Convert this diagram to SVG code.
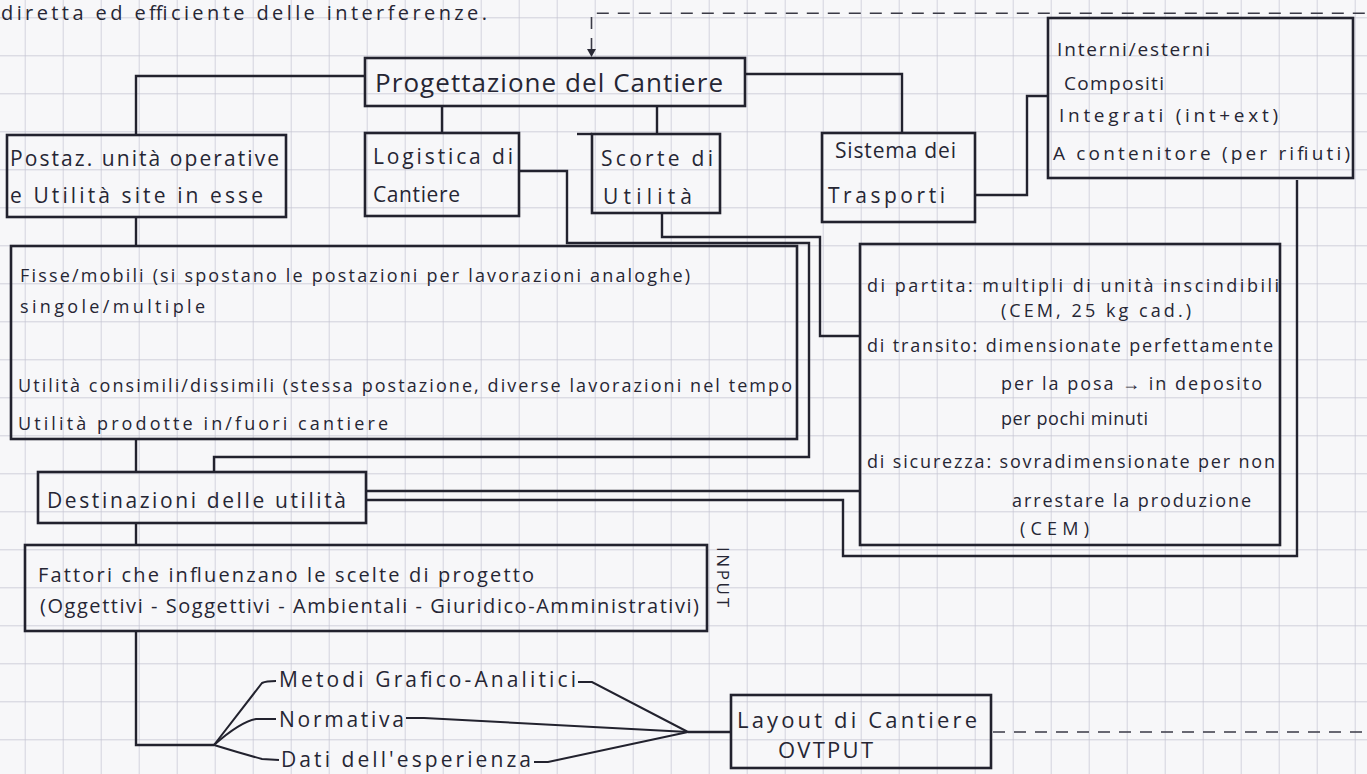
<svg xmlns="http://www.w3.org/2000/svg" width="1367" height="774" viewBox="0 0 1367 774">
<defs>
<pattern id="grid" x="24.7" y="17.3" width="38" height="38" patternUnits="userSpaceOnUse">
<path d="M0 0 H38 M0 0 V38" fill="none" stroke="#c4c4d2" stroke-width="1.4"/>
</pattern>
</defs>
<style>
.box{fill:none;stroke:#22222e;stroke-width:2.6}
.conn{fill:none;stroke:#22222e;stroke-width:2.4;stroke-linejoin:miter}
.thin{fill:none;stroke:#22222e;stroke-width:2}
.dash{fill:none;stroke:#3a3a46;stroke-width:1.6;stroke-dasharray:12 9}
.head{fill:#2a2a36}
.t{font-family:"Open Sans","Liberation Sans",sans-serif;fill:#262634}
.f26{font-size:26px}.f22{font-size:22px}.f21{font-size:21px}.f20{font-size:20px}.f19{font-size:19px}.f18{font-size:18px}.f17{font-size:17px}
</style>
<rect width="1367" height="774" fill="#f7f7f9"/>
<rect width="1367" height="774" fill="url(#grid)"/>

<text class="t f20" x="1" y="20" textLength="486">diretta ed efficiente delle interferenze.</text>

<g id="connectors">
<path class="dash" d="M591.5 50 V13.3 H1367"/>
<polygon class="head" points="587,49 596,49 591.5,57"/>
<path class="conn" d="M365 76 H136 V135"/>
<path class="conn" d="M442 106 V133"/>
<path class="conn" d="M657 106 V134"/>
<path class="conn" d="M577 134 H592"/>
<path class="conn" d="M745 74 H902 V133"/>
<path class="conn" d="M975 195 H1027 V96 H1048"/>
<path class="conn" d="M136 217 V246"/>
<path class="conn" d="M519 171 H567 V243 H809 V457 H214 V472"/>
<path class="conn" d="M662 213 V237 H820 V336 H860"/>
<path class="conn" d="M136 439 V472"/>
<path class="conn" d="M860 491 H366"/>
<path class="conn" d="M1297 180 V556 H843 V500 H366"/>
<path class="conn" d="M136 523 V545"/>
<path class="conn" d="M136 631 V745 H214"/>
<path class="thin" d="M214 745 L262 683 Q266 681 276 681"/>
<path class="thin" d="M214 745 Q240 722 256 719 L276 719"/>
<path class="thin" d="M214 745 Q240 753 262 759 L279 760"/>
<path class="thin" d="M578 682 H592 L688 732"/>
<path class="thin" d="M406 718 H424 L688 732"/>
<path class="thin" d="M534 762 H548 L688 732"/>
<path class="conn" d="M688 732 H731"/>
<path class="dash" d="M993 732 H1367"/>
</g>

<g id="progettazione">
<rect class="box" x="365" y="58" width="380" height="48"/>
<text class="t f26" x="375" y="92" textLength="348">Progettazione del Cantiere</text>
</g>

<g id="postazioni">
<rect class="box" x="7" y="135" width="279" height="82"/>
<text class="t f21" x="10" y="166" textLength="269">Postaz. unità operative</text>
<text class="t f21" x="10" y="203" textLength="253">e Utilità site in esse</text>
</g>

<g id="logistica">
<rect class="box" x="365" y="133" width="154" height="83"/>
<text class="t f21" x="373" y="164" textLength="140">Logistica di</text>
<text class="t f21" x="373" y="202" textLength="87">Cantiere</text>
</g>

<g id="scorte">
<rect class="box" x="592" y="134" width="128" height="79"/>
<text class="t f21" x="601" y="166" textLength="112">Scorte di</text>
<text class="t f21" x="603" y="204" textLength="89">Utilità</text>
</g>

<g id="sistema">
<rect class="box" x="822" y="133" width="153" height="89"/>
<text class="t f21" x="835" y="158" textLength="121">Sistema dei</text>
<text class="t f21" x="828" y="203" textLength="117">Trasporti</text>
</g>

<g id="tipi-trasporto">
<rect class="box" x="1048" y="18" width="305" height="160"/>
<text class="t f19" x="1057" y="56" textLength="153">Interni/esterni</text>
<text class="t f19" x="1064" y="90" textLength="100">Compositi</text>
<text class="t f19" x="1059" y="122" textLength="219">Integrati (int+ext)</text>
<text class="t f19" x="1053" y="160" textLength="297">A contenitore (per rifiuti)</text>
</g>

<g id="caratteristiche">
<rect class="box" x="11" y="246" width="786" height="193"/>
<text class="t f18" x="20" y="282" textLength="670">Fisse/mobili (si spostano le postazioni per lavorazioni analoghe)</text>
<text class="t f18" x="20" y="313" textLength="185">singole/multiple</text>
<text class="t f18" x="18" y="392" textLength="774">Utilità consimili/dissimili (stessa postazione, diverse lavorazioni nel tempo</text>
<text class="t f18" x="18" y="430" textLength="370">Utilità prodotte in/fuori cantiere</text>
</g>

<g id="tipi-scorte">
<rect class="box" x="860" y="244" width="420" height="301"/>
<text class="t f18" x="867" y="292" textLength="412">di partita: multipli di unità inscindibili</text>
<text class="t f18" x="1001" y="317" textLength="190">(CEM, 25 kg cad.)</text>
<text class="t f18" x="867" y="352" textLength="406">di transito: dimensionate perfettamente</text>
<text class="t f18" x="1001" y="390" textLength="261">per la posa → in deposito</text>
<text class="t f18" x="1001" y="425" textLength="147">per pochi minuti</text>
<text class="t f18" x="867" y="468" textLength="408">di sicurezza: sovradimensionate per non</text>
<text class="t f18" x="1012" y="507" textLength="239">arrestare la produzione</text>
<text class="t f18" x="1020" y="535" textLength="69">(CEM)</text>
</g>

<g id="destinazioni">
<rect class="box" x="38" y="472" width="328" height="51"/>
<text class="t f21" x="47" y="508" textLength="299">Destinazioni delle utilità</text>
</g>

<g id="fattori">
<rect class="box" x="25" y="545" width="682" height="86"/>
<text class="t f20" x="38" y="582" textLength="496">Fattori che influenzano le scelte di progetto</text>
<text class="t f20" x="40" y="613" textLength="659">(Oggettivi - Soggettivi - Ambientali - Giuridico-Amministrativi)</text>
<text class="t f17" transform="translate(717,547) rotate(90)" textLength="60">INPUT</text>
</g>

<g id="metodi">
<text class="t f21" x="279" y="687" textLength="297">Metodi Grafico-Analitici</text>
<text class="t f21" x="279" y="727" textLength="125">Normativa</text>
<text class="t f21" x="281" y="767" textLength="250">Dati dell'esperienza</text>
</g>

<g id="layout">
<rect class="box" x="731" y="695" width="260" height="73"/>
<text class="t f22" x="737" y="728" textLength="240">Layout di Cantiere</text>
<text class="t f22" x="778" y="758" textLength="95">OVTPUT</text>
</g>
</svg>
